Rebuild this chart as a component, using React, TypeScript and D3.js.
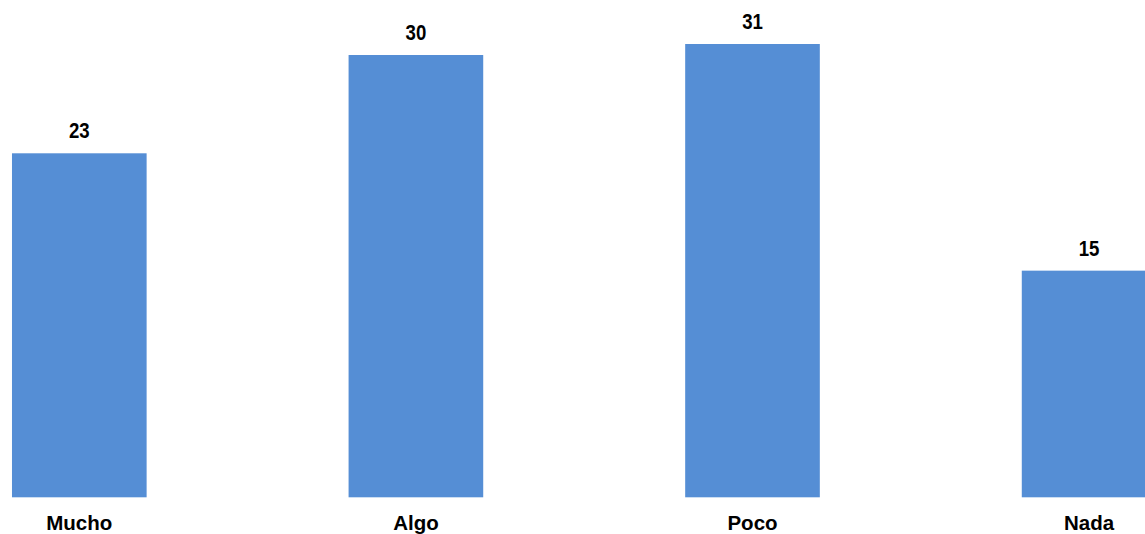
import React from "react";
import * as d3 from "d3";

const categories = ["Mucho", "Algo", "Poco", "Nada"];
const values = [23.45, 30.15, 30.9, 15.45];

const W = 1145;
const H = 534;

export default function App() {
  const x = d3
    .scaleBand<string>()
    .domain(categories)
    .range([-89, 1257.4])
    .paddingInner(0.6)
    .paddingOuter(0.3);
  const y = d3.scaleLinear().domain([0, 33.9]).range([497.3, 0]);
  const fmt = d3.format(".0f");
  return (
    <svg
      width={W}
      height={H}
      style={{ position: "absolute", left: 0, top: 0, background: "#fff" }}
    >
      {categories.map((c, i) => {
        const bx = x(c)!;
        const cx = bx + x.bandwidth() / 2;
        return (
          <g key={c}>
            <rect
              x={bx}
              y={y(values[i])}
              width={x.bandwidth()}
              height={y(0) - y(values[i])}
              fill="#558ed5"
            />
            <text
              transform={`translate(${cx},${y(values[i]) - 15}) scale(0.81,1)`}
              textAnchor="middle"
              fontFamily="'Liberation Sans', Arial, sans-serif"
              fontWeight="bold"
              fontSize={23}
              fill="#000"
            >
              {fmt(values[i])}
            </text>
            <text
              x={cx}
              y={530}
              textAnchor="middle"
              fontFamily="'Liberation Sans', Arial, sans-serif"
              fontWeight="bold"
              fontSize={20.5}
              fill="#000"
            >
              {c}
            </text>
          </g>
        );
      })}
    </svg>
  );
}
